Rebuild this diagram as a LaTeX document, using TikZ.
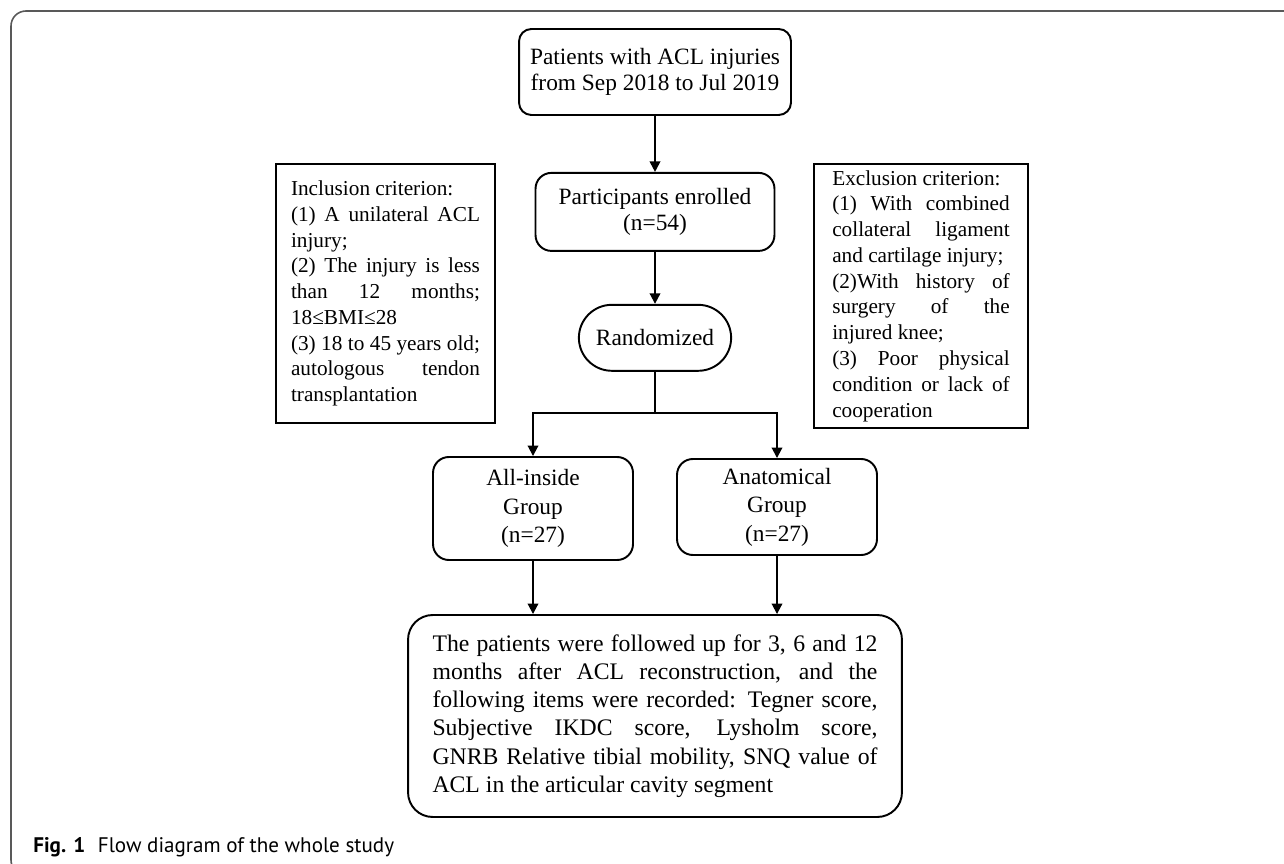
\documentclass[tikz,border=0pt]{standalone}
\usepackage{fontspec}
\setmainfont{Liberation Serif}
\newfontfamily\capfont{PT Sans}
\usepackage{tikz}
\usetikzlibrary{arrows.meta,positioning,shapes.misc}
% justified line and plain line inside aligned nodes
\newcommand{\fillline}[1]{{\spaceskip=.25em plus 1em minus .05em\xspaceskip=0pt\makebox[\linewidth][s]{#1}}}
\newcommand{\lastline}[1]{{\spaceskip=0pt\xspaceskip=0pt #1}}

\begin{document}
\begin{tikzpicture}[
    x=0.02cm, y=-0.02cm,
    font=\fontsize{13.3}{15}\selectfont,
    % box styles
    stage/.style={rectangle, draw, line width=1.1pt, rounded corners=7pt, align=center, inner sep=0pt},
    group/.style={stage, rounded corners=9pt, minimum width=4cm, font=\fontsize{13.3}{16.2}\selectfont},
    rule/.style={rectangle, draw, line width=1.5pt, align=left, inner sep=0pt, font=\fontsize{12.1}{14.66}\selectfont},
    flow/.style={draw, line width=1.1pt, -{Triangle[width=6pt,length=6pt]}}
]
    \useasboundingbox (0,0) rectangle (1284,864);

    % --- Outer frame ---
    \draw[gray!70!black, line width=0.9pt, rounded corners=0.3cm] (1320,11) -- (11,11) -- (11,875) -- (1320,875);

    % --- Main flow ---
    \node[stage, minimum width=5.44cm, minimum height=1.72cm] (patients) at (655,72)
        {\lastline{Patients with ACL injuries}\\\lastline{from Sep 2018 to Jul 2019}};
    \node[stage, rounded corners=9pt, minimum width=4.78cm, minimum height=1.56cm, below=1.12cm of patients] (enrolled)
        {\lastline{Participants enrolled}\\(n=54)};
    \node[rounded rectangle, draw, line width=1.1pt, minimum width=3.28cm, minimum height=1.32cm, below=1.04cm of enrolled] (randomized)
        {Randomized};

    % --- Criteria ---
    \node[rule, text width=3.78cm, minimum width=4.38cm, minimum height=5.18cm] (inclusion) at (385.5,293.5) {
        \lastline{Inclusion criterion:}\\
        \fillline{(1) A unilateral ACL}\\
        injury;\\
        \fillline{(2) The injury is less}\\
        \fillline{than 12 months;}\\
        18≤BMI≤28\\
        \fillline{(3) 18 to 45 years old;}\\
        \fillline{autologous tendon}\\
        transplantation};
    \node[rule, text width=3.55cm, minimum width=4.28cm, minimum height=5.28cm] (exclusion) at (921,296) {
        \lastline{Exclusion criterion:}\\
        \fillline{(1) With combined}\\
        \fillline{collateral ligament}\\
        \lastline{and cartilage injury;}\\
        \fillline{(2)With history of}\\
        \fillline{surgery of the}\\
        \lastline{injured knee;}\\
        \fillline{(3) Poor physical}\\
        \fillline{condition or lack of}\\
        cooperation};

    % --- Groups ---
    \node[group, minimum height=2.06cm] (allinside) at (533,508.5) {All-inside\\Group\\(n=27)};
    \node[group, minimum height=1.92cm] (anatomical) at (777,507) {Anatomical\\Group\\(n=27)};

    % --- Follow-up ---
    \node[stage, rounded corners=14pt, minimum width=9.88cm, minimum height=4.04cm, text width=8.9cm, align=left,
          font=\fontsize{13.5}{16.1}\selectfont] (followup) at (655,716) {
        \fillline{The patients were followed up for 3, 6 and 12}\\
        \fillline{months after ACL reconstruction, and the}\\
        \fillline{following items were recorded: Tegner score,}\\
        \fillline{Subjective IKDC score, Lysholm score,}\\
        \fillline{GNRB Relative tibial mobility, SNQ value of}\\
        \lastline{ACL in the articular cavity segment}};

    % --- Connectors ---
    \draw[flow] (patients) -- (enrolled);
    \draw[flow] (enrolled) -- (randomized);
    \coordinate (split) at (655,413);
    \draw[line width=1.1pt] (randomized) -- (split);
    \draw[flow] (split) -| (allinside);
    \draw[flow] (split) -| (anatomical);
    \draw[flow] (allinside) -- (allinside |- followup.north);
    \draw[flow] (anatomical) -- (anatomical |- followup.north);

    % --- Caption ---
    \node[anchor=base west, inner sep=0pt, font=\capfont\fontsize{12}{15}\selectfont] (caption) at (33,852)
        {\textbf{Fig. 1}\hspace{0.6em}Flow diagram of the whole study};
\end{tikzpicture}
\end{document}
